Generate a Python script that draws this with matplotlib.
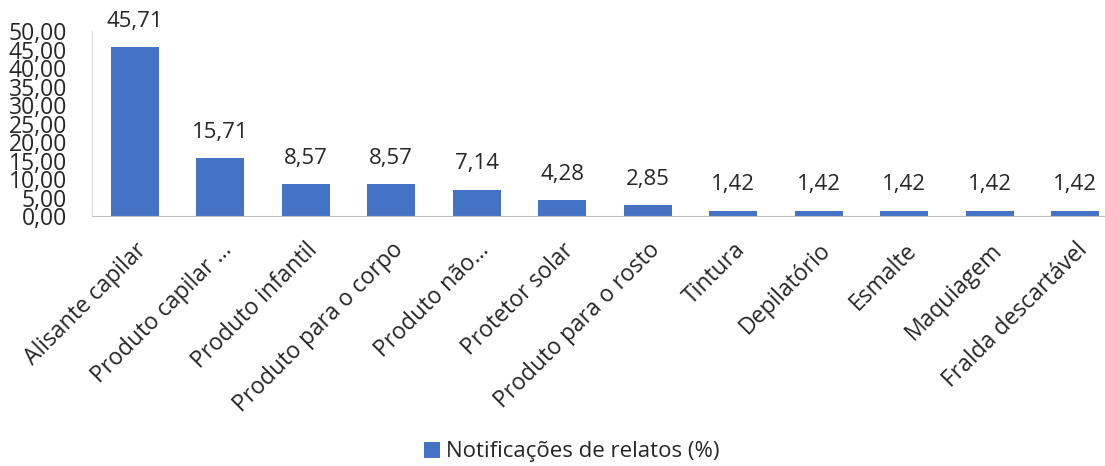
import numpy as np
import matplotlib
matplotlib.use("Agg")
import matplotlib.pyplot as plt

# Categories and values
categorias = ['Alisante capilar', 'Produto capilar ...', 'Produto infantil',
              'Produto para o corpo', 'Produto não...', 'Protetor solar',
              'Produto para o rosto', 'Tintura', 'Depilatório', 'Esmalte',
              'Maquiagem', 'Fralda descartável']
valores = [45.71, 15.71, 8.57, 8.57, 7.14, 4.28, 2.85, 1.42, 1.42, 1.42, 1.42, 1.42]
yticks = np.arange(0, 51, 5)
serie = 'Notificações de relatos (%)'

plt.rcParams['font.family'] = ['Open Sans', 'DejaVu Sans']
cor = '#4472C4'
texto = '#262626'

W, H = 1105, 466
fig = plt.figure(figsize=(W / 100, H / 100), dpi=100)
# axes pixel box: left 92, top 31, bottom 216, one category every ~85.5 px
left, top, bottom, step = 92, 31, 216, 85.5
ax = fig.add_axes([left / W, (H - bottom) / H, len(categorias) * step / W, (bottom - top) / H])

x = np.arange(len(categorias))
barras = ax.bar(x, valores, width=0.56, color=cor, label=serie)
ax.set_xlim(-0.5, len(categorias) - 0.5)
ax.set_ylim(0, 50)

def fmt(v):
    return '{:.2f}'.format(v).replace('.', ',')

for xi, v in zip(x, valores):
    ax.annotate(fmt(v), (xi, v), xytext=(0, 11), textcoords='offset points',
                ha='center', va='bottom', fontsize=16, color=texto)

ax.set_yticks(yticks)
ax.set_yticklabels([fmt(t) for t in yticks], fontsize=16.5, color=texto)
ax.set_xticks(x)
ax.set_xticklabels(categorias, rotation=45, ha='right', va='top',
                   rotation_mode='anchor', fontsize=16.5, color=texto)
ax.tick_params(axis='both', length=0)
ax.tick_params(axis='y', pad=18)
ax.tick_params(axis='x', pad=16)

for s in ['top', 'right']:
    ax.spines[s].set_visible(False)
ax.spines['left'].set_color('#D9D9D9')
ax.spines['bottom'].set_color('#BFBFBF')

fig.legend(handles=[barras], labels=[serie], loc='center', bbox_to_anchor=(572 / W, (H - 452) / H),
           frameon=False, fontsize=16, handlelength=0.7, handleheight=0.7, handletextpad=0.3,
           labelcolor=texto)

fig.savefig('out.png', dpi=100)
